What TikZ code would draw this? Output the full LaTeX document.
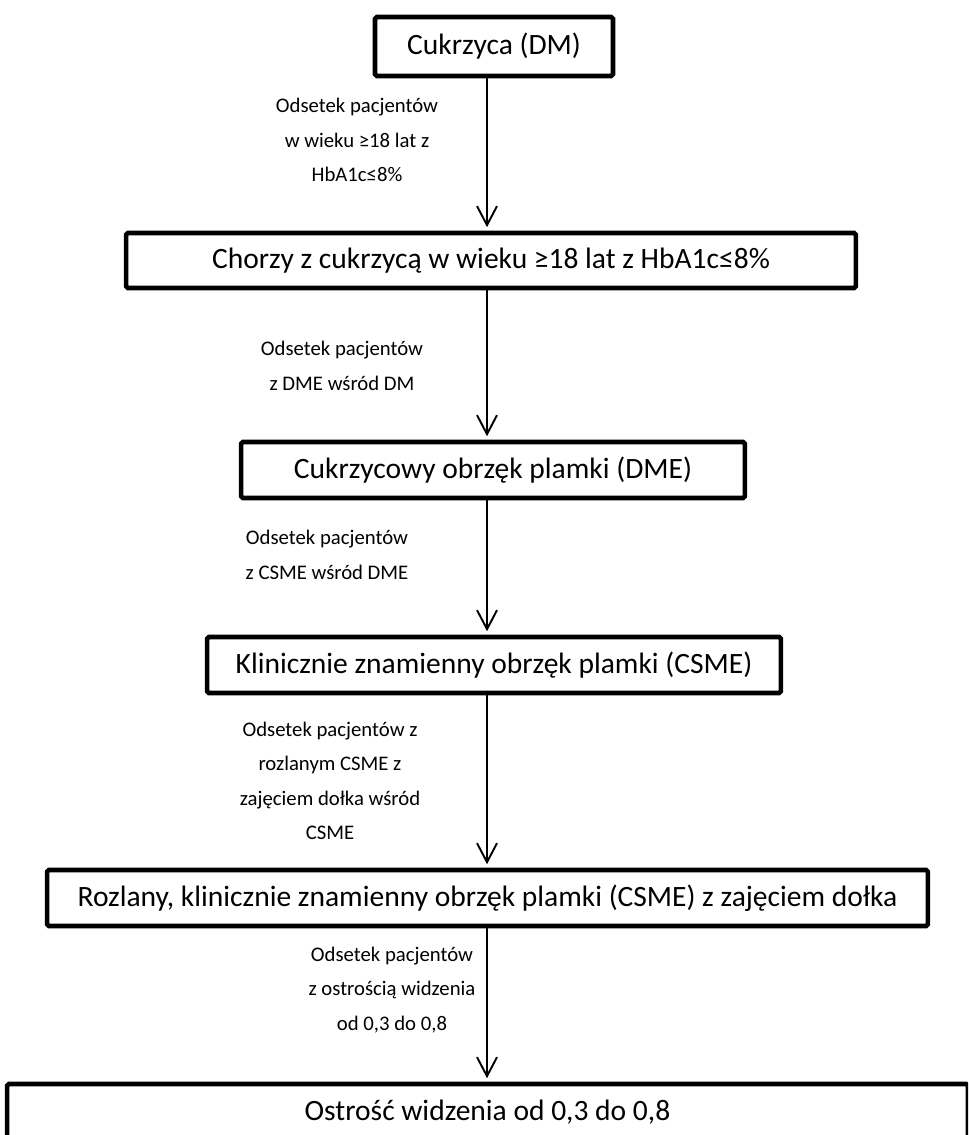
\documentclass[tikz,border=0pt]{standalone}
\usepackage{fontspec}
\setmainfont{Carlito}
\usetikzlibrary{arrows.meta}

\tikzset{
  box/.style={draw, line width=2.6pt, rounded corners=1pt, inner sep=0pt,
    font=\fontsize{16.8}{20}\selectfont},
  note/.style={align=center, inner sep=0pt, font=\fontsize{11.8}{19.6}\selectfont},
  flow/.style={line width=1.1pt, -{Straight Barb[length=3.8mm,width=4mm]}}
}

\begin{document}
\begin{tikzpicture}[x=0.02cm, y=-0.02cm]

\useasboundingbox (0,0) rectangle (968,1135);
\clip (0,0) rectangle (968,1135);

% ===== Ramki =====
\node[box, minimum width=4.76cm, minimum height=1.18cm] (dm) at (494,46.5) {Cukrzyca (DM)};
\node[box, minimum width=14.6cm, minimum height=1.1cm] (hba) at (491,260.5) {Chorzy z cukrzycą w wieku ≥18 lat z HbA1c≤8\%};
\node[box, minimum width=10.08cm, minimum height=1.12cm] (dme) at (493,470) {Cukrzycowy obrzęk plamki (DME)};
\node[box, minimum width=11.48cm, minimum height=1.12cm] (csme) at (494,665) {Klinicznie znamienny obrzęk plamki (CSME)};
\node[box, minimum width=17.62cm, minimum height=1.12cm] (rozl) at (487.5,898) {Rozlany, klinicznie znamienny obrzęk plamki (CSME) z zajęciem dołka};
\node[box, minimum width=19.22cm, minimum height=1.12cm] (vis) at (487.5,1112) {Ostrość widzenia od 0,3 do 0,8};

% ===== Strzałki =====
\coordinate (ax) at (487,0);

\draw[flow] (dm.south -| ax) -- ([yshift=2pt]hba.north -| ax);
\draw[flow] (hba.south -| ax) -- ([yshift=2pt]dme.north -| ax);
\draw[flow] (dme.south -| ax) -- ([yshift=2pt]csme.north -| ax);
\draw[flow] (csme.south -| ax) -- ([yshift=2pt]rozl.north -| ax);
\draw[flow] (rozl.south -| ax) -- ([yshift=2pt]vis.north -| ax);

% ===== Opisy =====
\node[note] (n1) at (357,140) {Odsetek pacjentów\\w wieku ≥18 lat z\\HbA1c≤8\%};
\node[note] (n2) at (342,366) {Odsetek pacjentów\\z DME wśród DM};
\node[note] (n3) at (327,555) {Odsetek pacjentów\\z CSME wśród DME};
\node[note] (n4) at (330,781) {Odsetek pacjentów z\\rozlanym CSME z\\zajęciem dołka wśród\\CSME};
\node[note] (n5) at (392,990) {Odsetek pacjentów\\z ostrością widzenia\\od 0,3 do 0,8};

\end{tikzpicture}
\end{document}
